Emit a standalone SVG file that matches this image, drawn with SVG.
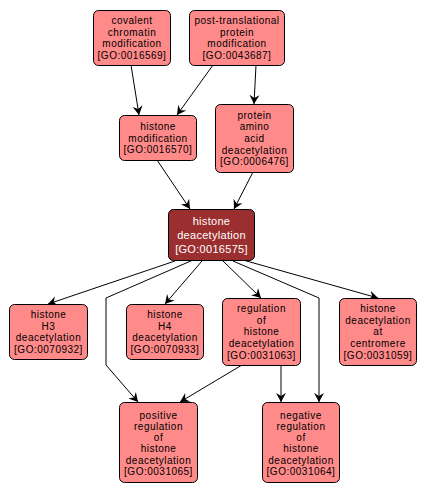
<svg xmlns="http://www.w3.org/2000/svg" width="427" height="495" viewBox="0 0 427 495">
<style>
.n rect{fill:#ff8a8a;stroke:#000;stroke-width:1}
.n text{font-family:"Liberation Sans",Arial,sans-serif;font-size:10px;letter-spacing:0.5px;text-anchor:middle;fill:#000}
.d rect{fill:#9b2f2f;stroke:#000;stroke-width:1}
.d text{font-family:"Liberation Sans",Arial,sans-serif;font-size:11px;letter-spacing:0.3px;text-anchor:middle;fill:#fff}
.e path{fill:none;stroke:#000;stroke-width:1;marker-end:url(#a)}
</style>
<defs>
<marker id="a" markerUnits="userSpaceOnUse" markerWidth="12" markerHeight="12" viewBox="-1 -6 12 12" refX="9" refY="0" orient="auto">
<path d="M0,-5 L9,0 L0,5 L3,0 z" fill="#000"/>
</marker>
</defs>
<rect width="427" height="495" fill="#fff"/>
<g id="edges" class="e">
<path d="M131,65 L139,115"/>
<path d="M213,65 L177,115"/>
<path d="M256,65 L254,104"/>
<path d="M157,160 L190,209"/>
<path d="M253,172 L234,209"/>
<path d="M175,261 L48,304"/>
<path d="M193,260 L106,298 L106,365 L138,402"/>
<path d="M202,261 L165,304"/>
<path d="M223,261 L261,298"/>
<path d="M233,261 L319,298 L319,402"/>
<path d="M243,260 L378,298"/>
<path d="M242,365 L180,402"/>
<path d="M281,365 L281,402"/>
</g>
<g id="n_covalent" class="n"><rect x="93.5" y="10.5" width="77" height="55" rx="5"/>
<text x="132" y="24">covalent</text><text x="132" y="35.7">chromatin</text><text x="132" y="47.4">modification</text><text x="132" y="59.1">[GO:0016569]</text></g>
<g id="n_ptm" class="n"><rect x="189.5" y="10.5" width="95" height="55" rx="5"/>
<text x="237" y="24">post-translational</text><text x="237" y="35.7">protein</text><text x="237" y="47.4">modification</text><text x="237" y="59.1">[GO:0043687]</text></g>
<g id="n_hm" class="n"><rect x="119.5" y="115.5" width="77" height="45" rx="5"/>
<text x="158" y="129.8">histone</text><text x="158" y="141.5">modification</text><text x="158" y="153.2">[GO:0016570]</text></g>
<g id="n_paad" class="n"><rect x="215.5" y="104.5" width="78" height="68" rx="5"/>
<text x="254.5" y="118.6">protein</text><text x="254.5" y="130.3">amino</text><text x="254.5" y="142">acid</text><text x="254.5" y="153.7">deacetylation</text><text x="254.5" y="165.4">[GO:0006476]</text></g>
<g id="n_hd" class="d"><rect x="168.5" y="209.5" width="86" height="51" rx="5"/>
<text x="211.5" y="225">histone</text><text x="211.5" y="239">deacetylation</text><text x="211.5" y="253">[GO:0016575]</text></g>
<g id="n_h3" class="n"><rect x="9.5" y="304.5" width="78" height="55" rx="5"/>
<text x="48.5" y="318">histone</text><text x="48.5" y="329.7">H3</text><text x="48.5" y="341.4">deacetylation</text><text x="48.5" y="353.1">[GO:0070932]</text></g>
<g id="n_h4" class="n"><rect x="126.5" y="304.5" width="77" height="55" rx="5"/>
<text x="165" y="318">histone</text><text x="165" y="329.7">H4</text><text x="165" y="341.4">deacetylation</text><text x="165" y="353.1">[GO:0070933]</text></g>
<g id="n_reg" class="n"><rect x="222.5" y="298.5" width="78" height="67" rx="5"/>
<text x="261.5" y="312">regulation</text><text x="261.5" y="323.7">of</text><text x="261.5" y="335.4">histone</text><text x="261.5" y="347.1">deacetylation</text><text x="261.5" y="358.8">[GO:0031063]</text></g>
<g id="n_cen" class="n"><rect x="339.5" y="298.5" width="77" height="67" rx="5"/>
<text x="378" y="312">histone</text><text x="378" y="323.7">deacetylation</text><text x="378" y="335.4">at</text><text x="378" y="347.1">centromere</text><text x="378" y="358.8">[GO:0031059]</text></g>
<g id="n_pos" class="n"><rect x="119.5" y="402.5" width="78" height="80" rx="5"/>
<text x="158.5" y="418.5">positive</text><text x="158.5" y="429.8">regulation</text><text x="158.5" y="441.1">of</text><text x="158.5" y="452.4">histone</text><text x="158.5" y="463.7">deacetylation</text><text x="158.5" y="475">[GO:0031065]</text></g>
<g id="n_neg" class="n"><rect x="262.5" y="402.5" width="77" height="80" rx="5"/>
<text x="301" y="418.5">negative</text><text x="301" y="429.8">regulation</text><text x="301" y="441.1">of</text><text x="301" y="452.4">histone</text><text x="301" y="463.7">deacetylation</text><text x="301" y="475">[GO:0031064]</text></g>
</svg>
